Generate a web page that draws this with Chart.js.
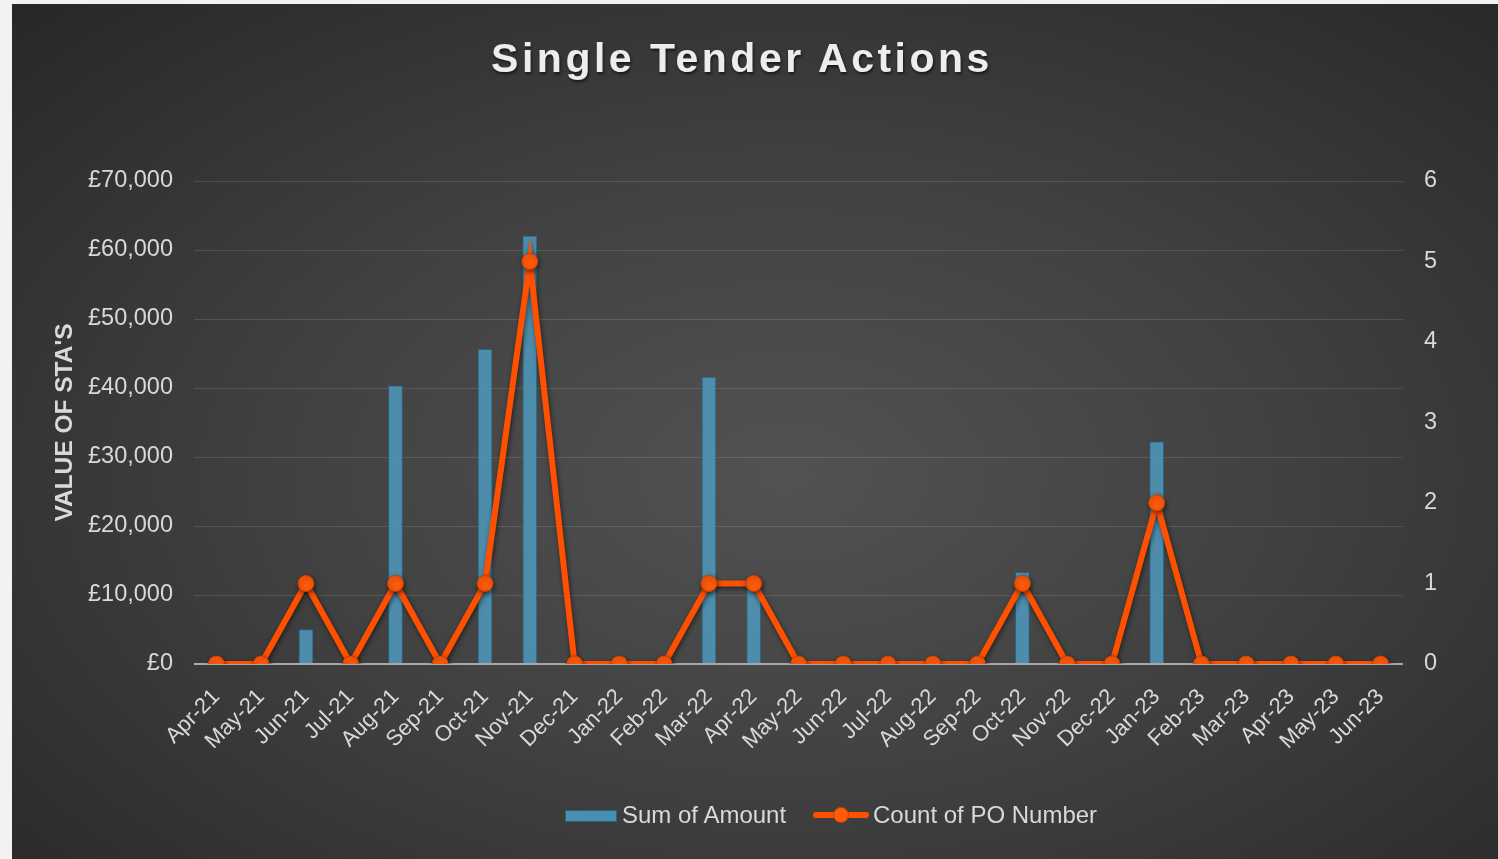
<!DOCTYPE html>
<html>
<head>
<meta charset="utf-8">
<title>Single Tender Actions</title>
<script src="https://cdn.jsdelivr.net/npm/chart.js@4"></script>
<style>
    html, body { margin: 0; padding: 0; background: #f2f2f2; overflow: hidden; }
    #panel {
        position: absolute; left: 12px; top: 4px; width: 1486px; height: 855px;
        background: radial-gradient(ellipse at 52% 55%, #525252 0%, #414141 45%, #272727 100%);
        font-family: "Liberation Sans", Arial, sans-serif;
    }
    #title {
        position: absolute; left: 470px; width: 520px; top: 31px; text-align: center;
        font-size: 41px; font-weight: bold; letter-spacing: 3.5px; color: #ededed;
        text-shadow: 1px 2px 3px rgba(0,0,0,0.6);
    }
    #chart { position: absolute; left: 0; top: 0; }
    #legend {
        position: absolute; top: 797px; left: 553px; height: 28px;
        font-size: 24px; color: #d9d9d9; white-space: nowrap;
    }
    .item { position: absolute; top: 0; height: 28px; line-height: 28px; }
    .barKey {
        position: absolute; left: 0; top: 9px; width: 50px; height: 10px;
        background: #4b8fb0; border: 1px solid #2b6481;
    }
    .lineKey {
        position: absolute; left: 0; top: 11px; width: 56px; height: 6px;
        background: #ff5000; border-radius: 3px;
    }
    .lineKey span {
        position: absolute; left: 20px; top: -5px; width: 16px; height: 16px; border-radius: 50%;
        background: #ff5a0a; border: 1px solid #c94000; box-sizing: border-box;
    }
</style>
</head>
<body>
<div id="panel">
    <canvas id="chart" width="1486" height="855"></canvas>
    <div id="title">Single Tender Actions</div>
    <div id="legend">
        <span class="item" style="left:0"><span class="barKey"></span><span style="margin-left:57px">Sum of Amount</span></span>
        <span class="item" style="left:248px"><span class="lineKey"><span></span></span><span style="margin-left:60px">Count of PO Number</span></span>
    </div>
</div>
<script>
// Months shown on the x axis
const months = [
    'Apr-21', 'May-21', 'Jun-21', 'Jul-21', 'Aug-21', 'Sep-21', 'Oct-21', 'Nov-21', 'Dec-21',
    'Jan-22', 'Feb-22', 'Mar-22', 'Apr-22', 'May-22', 'Jun-22', 'Jul-22', 'Aug-22', 'Sep-22',
    'Oct-22', 'Nov-22', 'Dec-22', 'Jan-23', 'Feb-23', 'Mar-23', 'Apr-23', 'May-23', 'Jun-23'
];

// Sum of Amount (£) per month
const sumOfAmount = [
    0, 0, 5000, 0, 40300, 0, 45600, 62000, 0,
    0, 0, 41600, 11500, 0, 0, 0, 0, 0,
    13300, 0, 0, 32200, 0, 0, 0, 0, 0
];

// Count of PO Number per month
const countOfPO = [
    0, 0, 1, 0, 1, 0, 1, 5, 0,
    0, 0, 1, 1, 0, 0, 0, 0, 0,
    1, 0, 0, 2, 0, 0, 0, 0, 0
];

// Axis ranges / tick steps
const amountMax = 70000;
const amountStep = 10000;
const countMax = 6;
const countStep = 1;

const textColor = '#d9d9d9';
const fontFamily = 'Liberation Sans, Arial, sans-serif';
const tickFont = { family: fontFamily, size: 23.5 };

// soft shadow under the orange line, like the original
const lineShadow = {
    id: 'lineShadow',
    beforeDatasetDraw(chart, args) {
        if (chart.data.datasets[args.index].type !== 'line') return;
        const ctx = chart.ctx;
        ctx.save();
        ctx.shadowColor = 'rgba(0,0,0,0.55)';
        ctx.shadowBlur = 5;
        ctx.shadowOffsetX = 1;
        ctx.shadowOffsetY = 2;
    },
    afterDatasetDraw(chart, args) {
        if (chart.data.datasets[args.index].type !== 'line') return;
        chart.ctx.restore();
    }
};

const poundFormat = v => '£' + v.toLocaleString('en-GB');

new Chart(document.getElementById('chart'), {
    data: {
        labels: months,
        datasets: [
            {
                type: 'line',
                label: 'Count of PO Number',
                data: countOfPO,
                yAxisID: 'yCount',
                order: 0,
                borderColor: '#ff5000',
                borderWidth: 6,
                tension: 0,
                pointRadius: 8,
                pointBackgroundColor: '#ff5a0a',
                pointBorderColor: '#c94000',
                pointBorderWidth: 1
            },
            {
                type: 'bar',
                label: 'Sum of Amount',
                data: sumOfAmount,
                yAxisID: 'yAmount',
                order: 1,
                backgroundColor: 'rgba(78, 147, 180, 0.92)',
                borderColor: '#2b6481',
                borderWidth: 1,
                barThickness: 14
            }
        ]
    },
    options: {
        responsive: false,
        animation: false,
        layout: { padding: { top: 177, left: 0, right: 0, bottom: 0 } },
        plugins: {
            legend: { display: false },
            tooltip: { enabled: false }
        },
        scales: {
            x: {
                offset: true,
                grid: { display: false, drawTicks: false },
                border: { display: false },
                ticks: {
                    color: textColor, font: { family: fontFamily, size: 22 },
                    minRotation: 45, maxRotation: 45, autoSkip: false, padding: 20
                },
                afterFit(scale) { scale.height = 195; }
            },
            yAmount: {
                position: 'left',
                min: 0, max: amountMax,
                grid: {
                    drawTicks: false,
                    lineWidth: ctx => ctx.tick && ctx.tick.value === 0 ? 2 : 1,
                    color: ctx => ctx.tick && ctx.tick.value === 0 ? '#a8a8a8' : 'rgba(255,255,255,0.12)'
                },
                border: { display: false },
                ticks: {
                    stepSize: amountStep, color: textColor, font: tickFont, padding: 21,
                    callback: v => poundFormat(v)
                },
                title: {
                    display: true, text: "VALUE OF STA'S", color: textColor,
                    font: { family: fontFamily, size: 24.5, weight: 'bold' },
                    padding: { top: 39, bottom: 0 }
                },
                afterFit(scale) { scale.width = 182; }
            },
            yCount: {
                position: 'right',
                min: 0, max: countMax,
                grid: { display: false, drawTicks: false },
                border: { display: false },
                ticks: { stepSize: countStep, color: textColor, font: tickFont, padding: 21 },
                afterFit(scale) { scale.width = 95; }
            }
        }
    },
    plugins: [lineShadow]
});
</script>
</body>
</html>
